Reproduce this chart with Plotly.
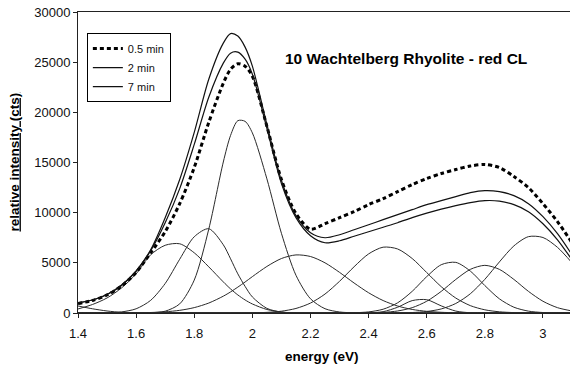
import plotly.graph_objects as go

# Shared energy grid (eV)
energy = [1.40, 1.45, 1.50, 1.55, 1.60, 1.65, 1.70, 1.75, 1.80, 1.85, 1.90, 1.925,
          1.95, 1.975, 2.00, 2.05, 2.10, 2.15, 2.20, 2.25, 2.30, 2.35, 2.40, 2.45,
          2.50, 2.55, 2.60, 2.65, 2.70, 2.75, 2.80, 2.85, 2.90, 2.95, 3.00, 3.05, 3.10]

# Measured spectra
spec_05min = [950, 1250, 1800, 2700, 4050, 6000, 8100, 10900, 14500, 19000, 22900, 24300,
              24850, 24600, 23600, 18600, 13300, 9900, 8350, 8900, 9500, 10100, 10800, 11400,
              12100, 12800, 13400, 13900, 14300, 14650, 14800, 14500, 13600, 12500, 10900, 9100, 7000]
spec_2min = [1000, 1300, 1850, 2800, 4200, 6300, 9500, 13300, 18000, 23300, 26900, 27850,
             27600, 26500, 24600, 18800, 13200, 9700, 8000, 7500, 7800, 8300, 8800, 9300,
             9800, 10300, 10800, 11200, 11600, 12000, 12200, 12100, 11700, 10900, 9600, 7900, 5800]
spec_7min = [1000, 1300, 1850, 2750, 4150, 6200, 9000, 12400, 16800, 21500, 24900, 25900,
             26000, 25300, 23800, 18400, 12900, 9500, 7700, 7000, 7200, 7650, 8100, 8550,
             9000, 9500, 9950, 10350, 10700, 11000, 11200, 11150, 10800, 10100, 8900, 7300, 5300]

# Fitted components
comp_a = [700, 420, 200, 60, 0, 0, 0, 0, 0, 0, 0, 0,
          0, 0, 0, 0, 0, 0, 0, 0, 0, 0, 0, 0,
          0, 0, 0, 0, 0, 0, 0, 0, 0, 0, 0, 0, 0]
comp_b = [400, 850, 1500, 2500, 3900, 5800, 6750, 6900, 6000, 4600, 3100, 2400,
          1800, 1300, 900, 350, 100, 0, 0, 0, 0, 0, 0, 0,
          0, 0, 0, 0, 0, 0, 0, 0, 0, 0, 0, 0, 0]
comp_c = [0, 0, 20, 110, 420, 1260, 2940, 5360, 7600, 8400, 6800, 5400,
          3900, 2650, 1600, 460, 90, 10, 0, 0, 0, 0, 0, 0,
          0, 0, 0, 0, 0, 0, 0, 0, 0, 0, 0, 0, 0]
comp_d = [0, 0, 0, 0, 0, 25, 180, 910, 3280, 8360, 15050, 17700,
          19170, 19100, 17950, 13370, 7940, 3760, 1415, 427, 102, 20, 0, 0,
          0, 0, 0, 0, 0, 0, 0, 0, 0, 0, 0, 0, 0]
comp_e = [0, 0, 0, 6, 18, 49, 119, 265, 537, 992, 1677, 2100,
          2580, 3090, 3625, 4640, 5430, 5790, 5630, 5000, 4050, 2990, 2015, 1240,
          695, 355, 166, 71, 27, 10, 3, 0, 0, 0, 0, 0, 0]
comp_f = [0, 0, 0, 0, 0, 0, 0, 0, 0, 0, 0, 0,
          0, 0, 19, 63, 180, 452, 990, 1890, 3160, 4610, 5890, 6560,
          6380, 5430, 4030, 2620, 1490, 735, 318, 120, 40, 10, 0, 0, 0]
comp_g0 = [0, 0, 0, 0, 0, 0, 0, 0, 0, 0, 0, 0,
           0, 0, 0, 0, 0, 0, 0, 0, 0, 0, 15, 133,
           575, 1235, 1325, 710, 190, 25, 0, 0, 0, 0, 0, 0, 0]
comp_g = [0, 0, 0, 0, 0, 0, 0, 0, 0, 0, 0, 0,
          0, 0, 0, 0, 0, 0, 0, 0, 0, 26, 111, 377,
          1016, 2160, 3627, 4815, 5046, 4180, 2733, 1413, 576, 186, 47, 10, 0]
comp_h = [0, 0, 0, 0, 0, 0, 0, 0, 0, 0, 0, 0,
          0, 0, 0, 0, 0, 0, 0, 0, 0, 4, 17, 65,
          202, 531, 1170, 2157, 3344, 4350, 4750, 4350, 3344, 2157, 1170, 531, 202]
comp_i = [0, 0, 0, 0, 0, 0, 0, 0, 0, 0, 0, 0,
          0, 0, 0, 0, 0, 0, 0, 0, 0, 0, 0, 3,
          13, 48, 151, 406, 950, 1917, 3357, 5090, 6690, 7610, 7525, 6540, 5000]

components = [comp_a, comp_b, comp_c, comp_d, comp_e, comp_f, comp_g0, comp_g, comp_h, comp_i]

x_ticks = [1.4, 1.6, 1.8, 2.0, 2.2, 2.4, 2.6, 2.8, 3.0]
x_tick_text = ["1.4", "1.6", "1.8", "2", "2.2", "2.4", "2.6", "2.8", "3"]
y_ticks = [0, 5000, 10000, 15000, 20000, 25000, 30000]

FONT = "Liberation Sans, Arial, sans-serif"

fig = go.Figure()

for comp in components:
    fig.add_trace(go.Scatter(x=energy, y=comp, mode="lines", showlegend=False,
                             line=dict(color="#2a2a2a", width=1, shape="spline", smoothing=0.8),
                             hoverinfo="skip"))

fig.add_trace(go.Scatter(x=energy, y=spec_05min, mode="lines", name="0.5 min",
                         line=dict(color="black", width=3, dash="4px,3px", shape="spline", smoothing=0.8)))
fig.add_trace(go.Scatter(x=energy, y=spec_2min, mode="lines", name="2 min",
                         line=dict(color="#111111", width=1.2, shape="spline", smoothing=0.8)))
fig.add_trace(go.Scatter(x=energy, y=spec_7min, mode="lines", name="7 min",
                         line=dict(color="#111111", width=1.2, shape="spline", smoothing=0.8)))

fig.update_layout(
    width=570, height=369,
    margin=dict(l=78, r=0, t=12, b=56),
    paper_bgcolor="white", plot_bgcolor="white",
    font=dict(family=FONT, color="#111111"),
    legend=dict(x=0.018, y=0.93, xanchor="left", yanchor="top",
                bordercolor="black", borderwidth=1, bgcolor="white",
                font=dict(size=11, family=FONT), tracegroupgap=0),
    xaxis=dict(range=[1.4, 3.093], tickvals=x_ticks, ticktext=x_tick_text,
               showgrid=False, zeroline=False, showline=True, linecolor="#222222", linewidth=1,
               mirror=True, ticks="outside", ticklen=4, tickcolor="#222222",
               tickfont=dict(size=13, family=FONT), ticklabelstandoff=4),
    yaxis=dict(range=[0, 30000], tickvals=y_ticks, tickformat="d",
               showgrid=False, zeroline=False, showline=True, linecolor="#222222", linewidth=1,
               ticks="outside", ticklen=4, tickcolor="#222222",
               tickfont=dict(size=13, family=FONT)),
    annotations=[
        dict(text="<b>10 Wachtelberg Rhyolite - red CL</b>", xref="paper", yref="paper",
             x=0.4167, y=0.847, xanchor="left", yanchor="middle", showarrow=False,
             font=dict(size=15.5, family=FONT, color="black")),
        dict(text="<b>energy (eV)</b>", xref="paper", yref="paper",
             x=0.496, y=-0.146, xanchor="center", yanchor="middle", showarrow=False,
             font=dict(size=13.5, family=FONT, color="black")),
        dict(text="<b><u>relative intensity (cts)</u></b>", xref="paper", yref="paper",
             x=-0.130, y=0.5, xanchor="center", yanchor="middle", showarrow=False, textangle=-90,
             font=dict(size=13.5, family=FONT, color="black")),
    ],
)

fig.write_html("out.html")
